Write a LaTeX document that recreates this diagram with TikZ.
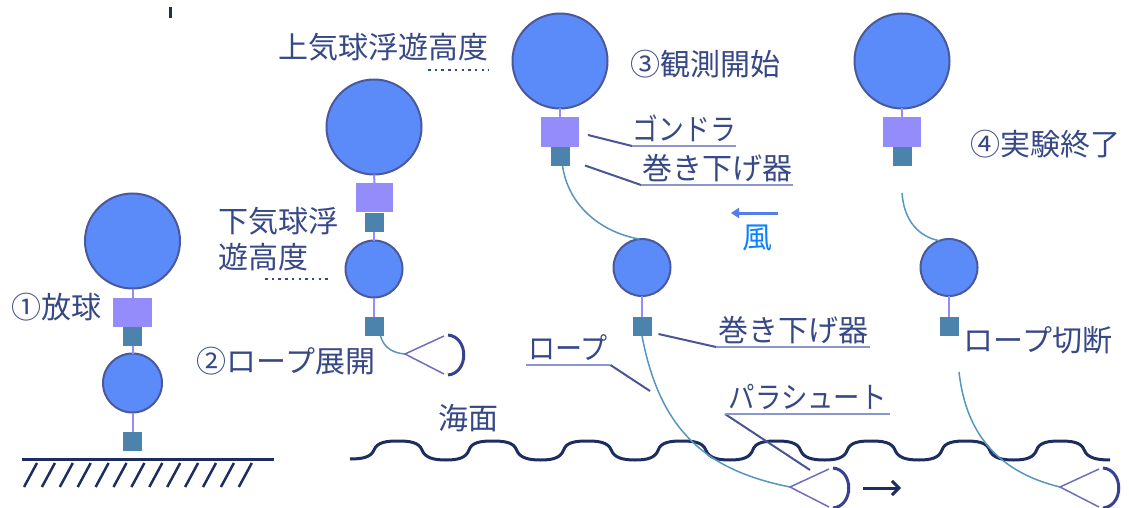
\documentclass[tikz,border=0pt]{standalone}
\usepackage{graphicx}
\usepackage{fontspec}
\newfontfamily\jp{Noto Sans CJK JP}
\usetikzlibrary{calc,arrows.meta}
\definecolor{bfill}{RGB}{91,139,249}
\definecolor{bline}{RGB}{75,88,155}
\definecolor{gfill}{RGB}{148,140,250}
\definecolor{wfill}{RGB}{75,131,172}
\definecolor{ropec}{RGB}{85,150,190}
\definecolor{leadc}{RGB}{75,85,150}
\definecolor{ulinec}{RGB}{140,150,205}
\definecolor{txt}{RGB}{55,72,135}
\definecolor{clinec}{RGB}{110,110,185}
\definecolor{carc}{RGB}{55,65,145}
\definecolor{navy}{RGB}{30,45,95}
\definecolor{windc}{RGB}{85,125,235}
\definecolor{kaze}{RGB}{10,130,255}
\begin{document}
\begin{tikzpicture}[x=1pt,y=-1pt,
  balbig/.style={circle, draw=bline, line width=2pt, fill=bfill, minimum size=95pt, inner sep=0pt, outer sep=0pt},
  balsmall/.style={balbig, minimum size=57pt},
  gond/.style={rectangle, fill=gfill, minimum width=38pt, minimum height=29pt, inner sep=0pt, outer sep=0pt},
  winch/.style={rectangle, fill=wfill, minimum width=19pt, minimum height=19pt, inner sep=0pt, outer sep=0pt},
  link/.style={draw=gfill, line width=2pt},
  ropeline/.style={draw=ropec, line width=1.5pt},
  lbl/.style={font=\jp\fontsize{30}{36}\selectfont, text=txt, inner sep=0pt},
  ul/.style={lbl, inner xsep=0pt, text depth=5pt, anchor=south west},
  leader/.style={draw=leadc, line width=2pt},
  underl/.style={draw=ulinec, line width=2pt},
  dotline/.style={draw=txt, line width=2.5pt, dash pattern=on 2.5pt off 4.2pt},
  wave/.style={draw=navy, line width=3pt},
  chute/.pic={
    \draw[clinec, line width=1.5pt] (39,-18) -- (0,0) -- (39,20);
    \draw[carc, line width=3pt] (43,-19) .. controls (64,-17) and (64,19) .. (43,21);
  }
]
\useasboundingbox (0,0) rectangle (1129,508);

% stray tick
\draw[navy, line width=3pt] (170,7) -- (170,18);

% ===== panel 1 =====
\node[balbig] (b1) at (132.5,241) {};
\node[gond, minimum width=39pt] (g1) at (132.5,312.5) {};
\node[winch] (w1) at (132.5,336.5) {};
\node[balsmall, minimum size=59pt] (s1) at (132.5,383) {};
\node[winch] (v1) at (132.5,441) {};
\draw[link] (b1.south) -- (g1.north);
\draw[link] (w1.south) -- (s1.north);
\draw[link] (s1.south) -- (v1.north);
\draw[navy, line width=3pt] (22,459) -- (274,459);
\foreach \i in {0,...,12} \draw[navy, line width=2.5pt] ({24+17.9*\i},487) -- ({37+17.9*\i},463);
\node[lbl] (l1) at (56,307.5) {①放球};

% ===== panel 2 =====
\node[balbig] (b2) at (374,127) {};
\node[gond, minimum width=37pt] (g2) at (374.5,197.5) {};
\node[winch] (w2) at (374,222) {};
\node[balsmall] (s2) at (374,269) {};
\node[winch] (v2) at (374,326.5) {};
\draw[link] (b2.south) -- (g2.north);
\draw[link] (w2.south) -- (s2.north);
\draw[link] (s2.south) -- (v2.north);
\coordinate (c2) at (405,354);
\draw[ropeline] ($(v2.south east)+(-3,0)$) .. controls (384,348) and (393,353) .. (c2);
\pic at (c2) {chute};
\node[lbl, align=left, anchor=west] (l2a) at (218,239) {下気球浮\\遊高度};
\draw[dotline] (265,279) -- (331,279);
\node[lbl] (l2) at (286,361.5) {②ロープ展開};
\node[lbl] (l2u) at (383,47.5) {上気球浮遊高度};
\draw[dotline] (428,70) -- (489,70);

% ===== sea =====
\draw[wave] (350,459) .. controls (363,459) and (371,457) .. (374,450)
  \foreach \k in {0,...,6} {
    .. controls ({377+94.6*\k},442) and ({387+94.6*\k},441) .. ({398+94.6*\k},441)
    .. controls ({409+94.6*\k},441) and ({419+94.6*\k},442) .. ({422+94.6*\k},450)
    .. controls ({425+94.6*\k},458) and ({434+94.6*\k},460) .. ({446+94.6*\k},460)
    .. controls ({458+94.6*\k},460) and ({466+94.6*\k},458) .. ({469+94.6*\k},450)
  }
  .. controls (1039.2,442) and (1049.2,441) .. (1060.2,441)
  .. controls (1071.2,441) and (1081.2,442) .. (1084.2,450)
  .. controls (1087.2,458) and (1097,460) .. (1110,460);
\node[lbl] (sea) at (468.5,418.5) {海面};

% ===== panel 3 =====
\node[balbig] (b3) at (560,61) {};
\node[gond] (g3) at (560,132) {};
\node[winch] (w3) at (560.5,156) {};
\node[balsmall] (s3) at (642,267.5) {};
\node[winch] (v3) at (642,326.5) {};
\draw[link] (b3.south) -- (g3.north);
\draw[link] (s3.south) -- (v3.north);
\draw[ropeline] ($(w3.south)+(2,0)$) .. controls (568,205) and (600,232) .. (s3.95);
\coordinate (c3) at (790,487);
\draw[ropeline] (v3.south) .. controls (660,430) and (705,470) .. (c3);
\pic at (c3) {chute};
\node[lbl] (l3) at (705,64) {③観測開始};
\node[ul, minimum width=104pt] (lg) at (632,146) {\scalebox{0.86}[1]{ゴンドラ}};
\draw[leader] ($(g3.east)+(9,3)$) -- (lg.south west);
\draw[underl] (lg.south west) -- (lg.south east);
\node[ul, minimum width=152pt] (lw3) at (641,185) {巻き下げ器};
\draw[leader] ($(w3.south east)+(15,0)$) -- (lw3.south west);
\draw[underl] (lw3.south west) -- (lw3.south east);
\coordinate (wa) at (778,213);
\coordinate (wb) at (731,213);
\draw[windc, line width=3pt, -{Triangle[length=8pt,width=10pt]}] (wa) -- (wb);
\node[lbl, text=kaze] (kz) at (757,237.5) {風};
\node[ul, minimum width=154pt] (lv3) at (716,347) {巻き下げ器};
\draw[leader] ($(v3.east)+(7,7.5)$) -- (lv3.south west);
\draw[underl] (lv3.south west) -- (lv3.south east);
\node[ul, minimum width=84pt] (lr) at (526,365) {\scalebox{0.9}[1]{ロープ}};
\coordinate (rp) at (650,391);
\draw[leader] (lr.south east) -- (rp);
\draw[underl] (lr.south west) -- (lr.south east);
\node[ul, minimum width=165pt] (lp) at (725,414) {\scalebox{0.88}[1]{パラシュート}};
\coordinate (pp) at (810,470);
\draw[leader] (lp.south west) -- (pp);
\draw[underl] (lp.south west) -- (lp.south east);
\coordinate (ra) at (863,488);
\coordinate (rb) at (901,488);
\draw[navy, line width=3pt, -{Straight Barb[length=7pt,width=14pt]}] (ra) -- (rb);

% ===== panel 4 =====
\node[balbig] (b4) at (902,61) {};
\node[gond] (g4) at (902,132) {};
\node[winch] (w4) at (902.5,156) {};
\node[balsmall] (s4) at (949,267.5) {};
\node[winch] (v4) at (949,326.5) {};
\draw[link] (b4.south) -- (g4.north);
\draw[link] (s4.south) -- (v4.north);
\coordinate (cut1) at (902,193);
\draw[ropeline] (cut1) .. controls (904,222) and (920,237) .. (s4.110);
\coordinate (cut2) at (959,372);
\coordinate (c4) at (1060,487);
\draw[ropeline] (cut2) .. controls (965,425) and (990,470) .. (c4);
\pic at (c4) {chute};
\node[lbl] (l4) at (1045.5,144.5) {④実験終了};
\node[lbl] (l4c) at (1038,340) {ロープ切断};
\end{tikzpicture}
\end{document}
